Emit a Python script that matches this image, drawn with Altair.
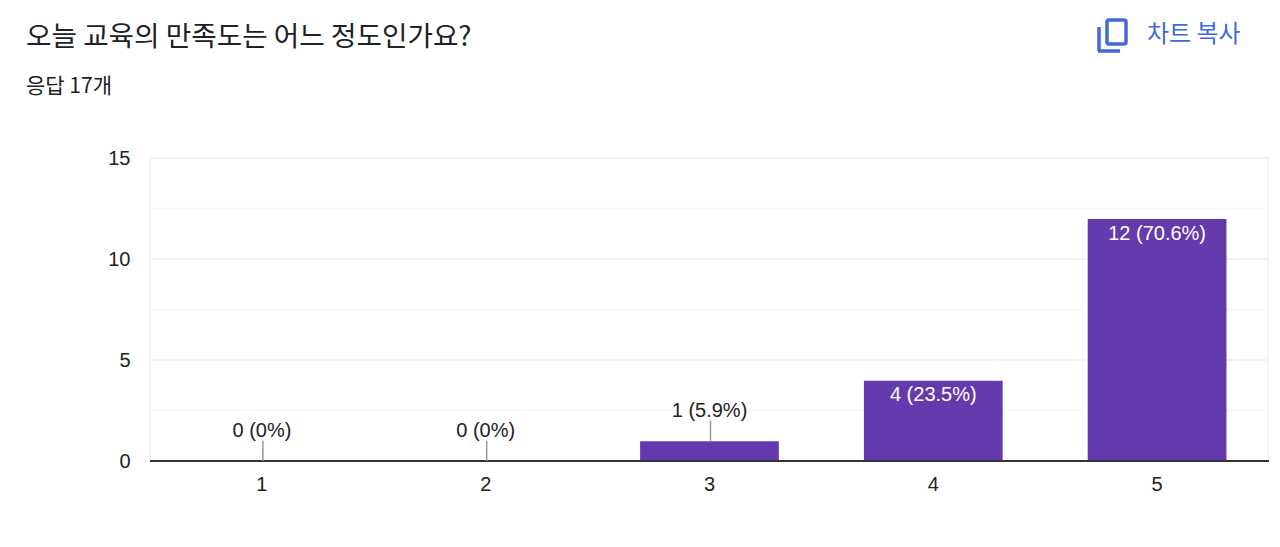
import altair as alt
import pandas as pd

categories = ["1", "2", "3", "4", "5"]
counts = [0, 0, 1, 4, 12]
labels = ["0 (0%)", "0 (0%)", "1 (5.9%)", "4 (23.5%)", "12 (70.6%)"]
y_ticks = [0, 5, 10, 15]
minor_ticks = [2.5, 7.5, 12.5]
TITLE = "오늘 교육의 만족도는 어느 정도인가요?"
SUBTITLE = "응답 17개"
COPY = "차트 복사"
PURPLE = "#643bad"
BLUE = "#3f6ad8"
LATIN = "Liberation Sans, Arial, Noto Sans CJK KR"
KR = "Noto Sans CJK KR"

df = pd.DataFrame({"cat": categories, "n": counts, "label": labels})
df["top"] = df["n"] + 1
small = df[df["n"] < 2]
big = df[df["n"] >= 2]

xs = alt.Scale(domain=categories, paddingInner=0.38, paddingOuter=0.19)
ys = alt.Scale(domain=[0, 15], nice=False)
xaxis = alt.Axis(labelAngle=0, domain=False, ticks=False, grid=False, labelFontSize=20,
                 labelFont=LATIN, labelColor="#222222", labelPadding=13)
yaxis = alt.Axis(values=y_ticks, domain=False, ticks=False, grid=False, labelFontSize=20,
                 labelFont=LATIN, labelColor="#222222", labelPadding=20, format="d")
X = alt.X("cat:N", scale=xs, title=None, axis=xaxis)


def Y(field):
    return alt.Y(field, scale=ys, title=None, axis=yaxis)


major = alt.Chart(pd.DataFrame({"v": y_ticks})).mark_rule(color="#f1f1f1", strokeWidth=2).encode(y=Y("v:Q"))
minor = alt.Chart(pd.DataFrame({"v": minor_ticks})).mark_rule(color="#f6f6f6", strokeWidth=1.5).encode(y=Y("v:Q"))
left = alt.Chart(pd.DataFrame({"v": [0]})).mark_rule(color="#f1f1f1", strokeWidth=2).encode(
    x=alt.value(0), y=alt.value(0), y2=alt.value(303)
)
right = alt.Chart(pd.DataFrame({"v": [0]})).mark_rule(color="#f4f4f4", strokeWidth=2).encode(
    x=alt.value(1118), y=alt.value(0), y2=alt.value(303)
)
bars = alt.Chart(df).mark_bar(color=PURPLE, yOffset=0.5).encode(x=X, y=Y("n:Q"))
base = alt.Chart(pd.DataFrame({"v": [0]})).mark_rule(color="#333333", strokeWidth=2).encode(y=Y("v:Q"))
leaders = alt.Chart(small).mark_rule(color="#999999", strokeWidth=1.5, xOffset=1).encode(x=X, y=Y("n:Q"), y2="top:Q")
out_text = alt.Chart(small).mark_text(fontSize=20, font=LATIN, color="#222222", baseline="bottom", dy=0).encode(
    x=X, y=Y("top:Q"), text="label:N"
)
in_text = alt.Chart(big).mark_text(fontSize=20, font=LATIN, color="#ffffff", baseline="top", dy=5).encode(
    x=X, y=Y("n:Q"), text="label:N"
)

anchor = pd.DataFrame({"v": [0]})
icon_box = alt.Chart(anchor).mark_rect(fillOpacity=0, stroke=BLUE, strokeWidth=3.5, cornerRadius=2).encode(
    x=alt.value(957), x2=alt.value(976), y=alt.value(-138), y2=alt.value(-114)
)
icon_v = alt.Chart(anchor).mark_rule(color=BLUE, strokeWidth=3.5).encode(
    x=alt.value(949), y=alt.value(-131), y2=alt.value(-107)
)
icon_h = alt.Chart(anchor).mark_rule(color=BLUE, strokeWidth=3.5).encode(
    x=alt.value(948), x2=alt.value(970), y=alt.value(-107)
)
copy_text = alt.Chart(anchor).mark_text(text=COPY, font=KR, fontSize=24, color=BLUE, align="left", baseline="middle").encode(
    x=alt.value(997), y=alt.value(-123.5)
)
title_text = alt.Chart(anchor).mark_text(text=TITLE, font=KR, fontSize=27.7, color="#202124", align="left", baseline="middle").encode(
    x=alt.value(-124), y=alt.value(-120)
)
sub_text = alt.Chart(anchor).mark_text(text=SUBTITLE, font=KR, fontSize=21, color="#202124", align="left", baseline="middle").encode(
    x=alt.value(-124), y=alt.value(-71)
)

chart = alt.layer(
    major, minor, left, right, bars, base, leaders, out_text, in_text,
    icon_box, icon_v, icon_h, copy_text, title_text, sub_text
).resolve_scale(y="shared", x="shared").properties(
    width=1119, height=303,
    background="#ffffff",
    autosize=alt.AutoSizeParams(type="none"),
    padding={"left": 142, "top": 150, "right": 3, "bottom": 70},
).configure_view(stroke=None)

chart.save("out.html", embed_options={"renderer": "svg", "actions": False})
